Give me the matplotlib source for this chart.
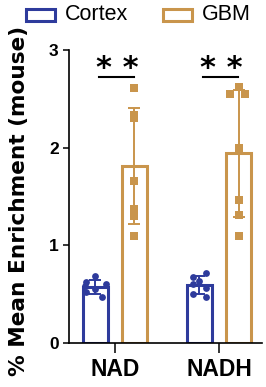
import matplotlib
matplotlib.use("Agg")
import matplotlib.pyplot as plt
from matplotlib.patches import Rectangle
import numpy as np

categories = ["NAD", "NADH"]
groups = ["Cortex", "GBM"]
cortex_nad = [0.69, 0.62, 0.60, 0.58, 0.55, 0.52, 0.47]
cortex_nadh = [0.72, 0.68, 0.63, 0.60, 0.56, 0.50, 0.47]
gbm_nad = [2.61, 2.33, 2.30, 1.66, 1.37, 1.30, 1.10]
gbm_nadh = [2.62, 2.55, 2.55, 2.00, 1.46, 1.31, 1.10]
yticks = [0, 1, 2, 3]
sig_label = "* *"

# styling (jitter offsets for points, in data units)
jit_c_nad = [0.0, -0.09, 0.1, -0.1, 0.0, -0.09, 0.06]
jit_c_nadh = [0.06, -0.06, 0.0, -0.06, 0.06, -0.06, 0.06]
jit_g_nad = [0, 0, 0, 0, 0, 0, 0]
jit_g_nadh = [0.0, -0.08, 0.06, 0, 0, 0, 0]

blue = "#2E3B9C"
gold = "#C9954C"

W, H = 266, 387
fig = plt.figure(figsize=(W / 100, H / 100), dpi=100)
ax = fig.add_axes([0.259, 0.1137, 0.726, 0.7571])

x = np.arange(len(categories))
off = 0.1875
w = 0.24
data = {"Cortex": [cortex_nad, cortex_nadh], "GBM": [gbm_nad, gbm_nadh]}
jits = {"Cortex": [jit_c_nad, jit_c_nadh], "GBM": [jit_g_nad, jit_g_nadh]}
cols = {"Cortex": blue, "GBM": gold}
marks = {"Cortex": "o", "GBM": "s"}
for gi, g in enumerate(groups):
    sign = -1 if gi == 0 else 1
    for ci in range(len(categories)):
        vals = np.array(data[g][ci])
        m = vals.mean()
        sd = vals.std(ddof=1)
        xc = x[ci] + sign * off
        ax.bar(xc, m, width=w, facecolor="white", edgecolor=cols[g], linewidth=2.2, zorder=2)
        ax.scatter(xc + np.array(jits[g][ci]), vals, marker=marks[g], s=26 if g == "GBM" else 24,
                   color=cols[g], zorder=3, linewidths=0)
        ax.errorbar(xc, m, yerr=sd, color=cols[g], elinewidth=1.4, capsize=4.5, capthick=1.4, zorder=4)

for ci in range(len(categories)):
    ax.plot([x[ci] - 0.154, x[ci] + 0.183], [2.72, 2.72], color="black", lw=1.5, clip_on=False)
    ax.text(x[ci] + 0.02, 2.66, sig_label, ha="center", va="bottom", fontsize=22,
            fontweight="bold", family="DejaVu Sans")

ax.set_xlim(-0.442, 1.413)
ax.set_ylim(0, 3)
ax.set_yticks(yticks)
ax.set_yticklabels([str(t) for t in yticks], fontsize=12.5, fontweight="bold", family="Liberation Sans")
ax.set_xticks(x)
ax.set_xticklabels(categories, fontsize=16.5, fontweight="bold", family="Liberation Sans")
ax.tick_params(axis="y", length=4.3, width=1.1, pad=3)
ax.tick_params(axis="x", length=7, width=1.1, pad=4)
for s in ["top", "right"]:
    ax.spines[s].set_visible(False)
for s in ["left", "bottom"]:
    ax.spines[s].set_linewidth(1.2)
ax.set_ylabel("% Mean Enrichment (mouse)", fontsize=15.6, fontweight="bold")
ax.yaxis.set_label_coords(-0.205, 0.485)

# manual legend (figure pixel coords from top-left)
def fx(px):
    return px / W

def fy(py):
    return 1 - py / H

legend_items = [("Cortex", 26, 65), ("GBM", 163, 202)]
for g, bx, tx in legend_items:
    fig.patches.append(Rectangle((fx(bx), fy(21)), 29 / W, 12 / H, transform=fig.transFigure,
                                 facecolor="white", edgecolor=cols[g], linewidth=2.2))
    fig.text(fx(tx), fy(15), g, ha="left", va="center", fontsize=15.5, family="Liberation Sans")

fig.savefig("out.png", dpi=100)
